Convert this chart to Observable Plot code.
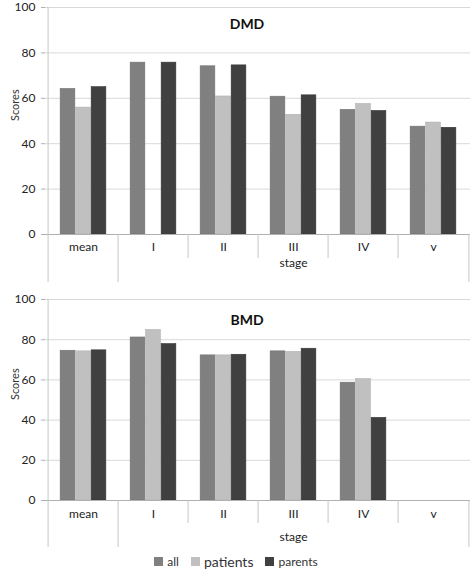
<!DOCTYPE html>
<html><head><meta charset="utf-8">
<script src="https://cdn.jsdelivr.net/npm/d3@7"></script>
<script src="https://cdn.jsdelivr.net/npm/@observablehq/plot@0.6"></script>
<style>
body{margin:0;background:#fff;font-family:Lato,"Open Sans",sans-serif;}
#chart svg{display:block}
.legend{display:flex;justify-content:center;align-items:center;height:22px;color:#333;}
.legend .item{display:flex;align-items:center;margin:0 6px;}
.legend .sw{width:9px;height:9px;margin-right:4px;display:inline-block}
</style></head><body><div id="chart"></div>
<script>
const categories = ["mean","I","II","III","IV","v"];
const series = ["all","patients","parents"];
const colors = ["#808080","#c0c0c0","#404040"];
const strokes = ["#707070","#b0b0b0","#333333"];
const dmdAll      = [64.1, 75.7, 74.1, 60.7, 54.9, 47.5];
const dmdPatients = [55.9, null, 60.8, 52.7, 57.5, 49.3];
const dmdParents  = [64.9, 75.7, 74.5, 61.3, 54.4, 47.0];
const bmdAll      = [74.5, 81.1, 72.2, 74.2, 58.6, null];
const bmdPatients = [74.2, 84.8, 72.2, 73.9, 60.4, null];
const bmdParents  = [74.7, 77.8, 72.5, 75.5, 41.1, null];
const yTicks = [0, 20, 40, 60, 80, 100];
const groupLabel = "stage";
const yLabel = "Scores";

const W = 472, ML = 45, MR = 2;
const bw = (W - ML - MR) / categories.length;
const barW = 15.5;
const pad = (bw - series.length * barW) / 2;
const sepColor = "#c6c6c6";

function panel(title, vals, o) {
  const rows = [];
  series.forEach((s, i) => categories.forEach((c, j) => {
    if (vals[i][j] != null) rows.push({cat: c, series: s, value: vals[i][j]});
  }));
  const plotH = o.height - o.marginTop - o.marginBottom;
  const stageCats = categories.slice(1);
  const stageCenter = stageCats[Math.floor(stageCats.length / 2)];
  return Plot.plot({
    width: W, height: o.height,
    marginLeft: ML, marginRight: MR, marginTop: o.marginTop, marginBottom: o.marginBottom,
    style: {fontFamily: "Lato, 'Open Sans', sans-serif", fontSize: "12px", background: "#fff", color: "#333"},
    x: {type: "band", domain: categories, padding: 0, axis: null},
    y: {domain: [0, 100], axis: null},
    marks: [
      Plot.gridY(yTicks, {stroke: "#d9d9d9", strokeOpacity: 1}),
      ...series.map((s, i) => Plot.barY(rows.filter(d => d.series === s), {
        x: "cat", y: "value", fill: colors[i], stroke: strokes[i], strokeWidth: 0.6,
        insetLeft: pad + i * barW, insetRight: bw - pad - (i + 1) * barW
      })),
      Plot.ruleY([0], {stroke: "#b0b0b0"}),
      Plot.axisY({ticks: yTicks, tickSize: 4, tickPadding: 6, label: null, fontSize: 12, stroke: "#b0b0b0", fill: "#222"}),
      Plot.text([yLabel], {frameAnchor: "left", dx: -30, rotate: -90, fontSize: 11, fill: "#333"}),
      // separators
      Plot.ruleX([categories[0]], {x: d => d, dx: -bw / 2, stroke: sepColor, insetBottom: -o.outerDrop}),
      Plot.ruleX([categories[1]], {x: d => d, dx: -bw / 2, stroke: sepColor, insetTop: plotH, insetBottom: -o.outerDrop}),
      Plot.ruleX(categories.slice(2), {x: d => d, dx: -bw / 2, stroke: sepColor, insetTop: plotH, insetBottom: -o.sepDrop}),
      Plot.ruleX([categories[categories.length - 1]], {x: d => d, dx: bw / 2, stroke: sepColor, insetTop: plotH, insetBottom: -o.outerDrop}),
      Plot.text(categories, {x: d => d, frameAnchor: "bottom", dy: o.labelDy, fontSize: 12, fill: "#222"}),
      Plot.text([groupLabel], {x: () => stageCenter, frameAnchor: "bottom", dy: o.stageDy, fontSize: 12, fill: "#222"}),
      Plot.text([title], {frameAnchor: "top", dy: o.titleDy, dx: -11, fontWeight: "bold", fontSize: 14, fill: "#111"})
    ]
  });
}

const root = document.getElementById("chart");
root.appendChild(panel("DMD", [dmdAll, dmdPatients, dmdParents],
  {height: 282, marginTop: 7, marginBottom: 48, labelDy: 16, sepDrop: 24, stageDy: 32, outerDrop: 48, titleDy: 12}));
root.appendChild(panel("BMD", [bmdAll, bmdPatients, bmdParents],
  {height: 268, marginTop: 17, marginBottom: 50, labelDy: 17, sepDrop: 23, stageDy: 40, outerDrop: 47, titleDy: 16}));

const legend = document.createElement("div");
legend.className = "legend";
series.forEach((s, i) => {
  const it = document.createElement("span");
  it.className = "item";
  const sw = document.createElement("span");
  sw.className = "sw"; sw.style.background = colors[i];
  const t = document.createElement("span");
  t.textContent = s;
  t.style.fontSize = s === "patients" ? "14px" : "12px";
  it.appendChild(sw); it.appendChild(t);
  legend.appendChild(it);
});
root.appendChild(legend);
</script></body></html>
